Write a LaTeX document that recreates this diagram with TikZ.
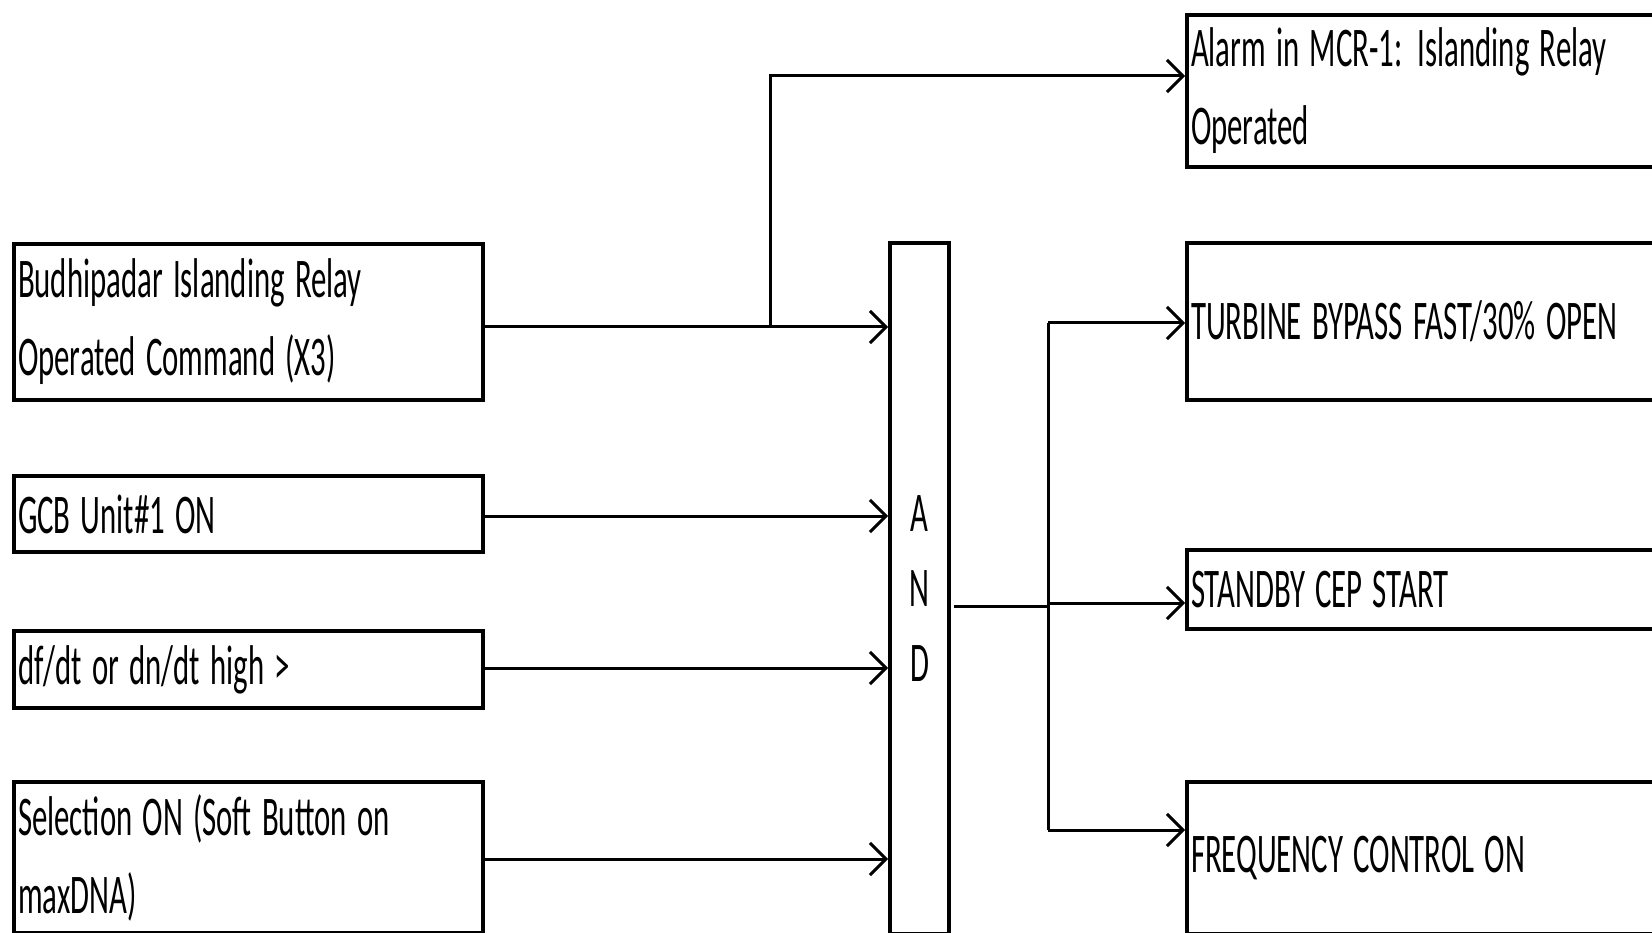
\documentclass[tikz,border=0pt]{standalone}
\usepackage{fontspec}
\usepackage{graphicx}
\setmainfont{Carlito}
\usetikzlibrary{arrows.meta}
\newcommand{\hs}[1]{\scalebox{0.55}[1]{#1}}
\begin{document}
\begin{tikzpicture}[x=1pt,y=-1pt,
  box/.style={draw, line width=4pt, anchor=north west, inner xsep=4pt, inner ysep=0pt,
              align=left, font=\fontsize{56}{78}\selectfont},
  inbox/.style={box, text width=461pt, minimum width=469pt},
  outbox/.style={box, text width=467pt, minimum width=475pt},
  wire/.style={line width=3pt},
  conn/.style={wire, -{Straight Barb[length=16pt,width=32pt,line width=3pt]}}]
\clip (0,0) rectangle (1652,933);
\fill[white] (0,0) rectangle (1652,933);
% inputs
\node[inbox, minimum height=156pt] (b1) at (12,242) {\hs{Budhipadar Islanding Relay}\\\hs{Operated Command (X3)}};
\node[inbox, minimum height=76pt] (b2) at (12,474) {\hs{GCB Unit\#1 ON}};
\node[inbox, minimum height=77pt] (b3) at (12,629) {\hs{df/dt or dn/dt high >}};
\node[inbox, minimum height=151pt] (b4) at (12,780) {\hs{Selection ON (Soft Button on}\\\hs{maxDNA)}};
% AND gate
\node[box, align=center, text width=51pt, minimum width=59pt, minimum height=691pt,
      font=\fontsize{56}{75}\selectfont] (and) at (888,241) {\hs{A}\\\hs{N}\\\hs{D}};
% outputs
\node[outbox, minimum height=152pt] (alarm) at (1185,13) {\hs{Alarm in MCR-1: Islanding Relay}\\\hs{Operated}};
\node[outbox, minimum height=157pt] (turb) at (1185,241) {\hs{TURBINE BYPASS FAST/30\% OPEN}};
\node[outbox, minimum height=79pt] (stby) at (1185,548) {\hs{STANDBY CEP START}};
\node[outbox, minimum height=152pt] (freq) at (1185,780) {\hs{FREQUENCY CONTROL ON}};
% helper coordinates
\coordinate (i1) at (0,327);
\coordinate (i2) at (0,516);
\coordinate (i3) at (0,668);
\coordinate (i4) at (0,859);
\coordinate (ja) at (770,76);
\coordinate (jo) at (1048,606);
\coordinate (jt) at (1048,323);
\coordinate (js) at (1048,603);
\coordinate (jf) at (1048,830);
% input connectors
\draw[conn] (b1.east |- i1) -- (and.west |- i1);
\draw[conn] (b2.east |- i2) -- (and.west |- i2);
\draw[conn] (b3.east |- i3) -- (and.west |- i3);
\draw[conn] (b4.east |- i4) -- (and.west |- i4);
% branch to alarm
\draw[conn] (ja |- i1) -- (ja) -- (ja -| alarm.west);
% AND output
\draw[wire] ([xshift=3pt]and.east |- jo) -- (jo);
\draw[wire] (jt) -- (jf);
\draw[conn] (jt) -- (jt -| turb.west);
\draw[conn] (js) -- (js -| stby.west);
\draw[conn] (jf) -- (jf -| freq.west);
\end{tikzpicture}
\end{document}
